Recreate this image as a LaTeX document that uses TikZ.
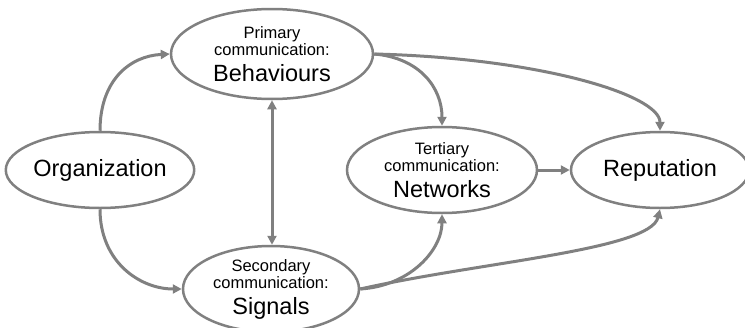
\documentclass[tikz,border=0pt]{standalone}
\usepackage{fontspec}
\setmainfont{Liberation Sans}
\usetikzlibrary{shapes.geometric,arrows.meta}
\definecolor{lc}{RGB}{128,128,128}
\newcommand{\smtxt}{\fontsize{16.5}{17}\selectfont}
\begin{document}
\begin{tikzpicture}[x=1pt,y=-1pt,
  ell/.style={ellipse, draw=lc, line width=2.5pt, inner sep=0pt, align=center,
    font=\fontsize{23.5}{26}\selectfont, text=black},
  conn/.style={draw=lc, line width=3pt, -{Triangle[length=9pt,width=9pt]}},
  dconn/.style={draw=lc, line width=3pt, {Triangle[length=9pt,width=9pt]}-{Triangle[length=9pt,width=9pt]}}]
\useasboundingbox (0,0) rectangle (745,327);
\clip (0,0) rectangle (745,327);
\node[ell, minimum width=176pt, minimum height=76pt] (org) at (100,170) {Organization};
\node[ell, minimum width=202pt, minimum height=90pt] (beh) at (272,54)
  {{\smtxt Primary}\\[-9pt]{\smtxt communication:}\\Behaviours};
\node[ell, minimum width=176pt, minimum height=86pt] (sig) at (271,289)
  {{\smtxt Secondary}\\[-9pt]{\smtxt communication:}\\Signals};
\node[ell, minimum width=190pt, minimum height=86pt] (net) at (442,170)
  {{\smtxt Tertiary}\\[-9pt]{\smtxt communication:}\\Networks};
\node[ell, minimum width=178pt, minimum height=76pt] (rep) at (660,170) {Reputation};

\draw[conn] (org.north) .. controls (100,80) and (130,56) .. (beh.west);
\draw[conn] (org.south) .. controls (100,262) and (140,289) .. (sig.west);
\draw[dconn] (beh.south) -- (beh.south |- sig.north);
\draw[conn] (beh.east) .. controls (420,58) and (442,88) .. (net.north);
\draw[conn] (beh.east) .. controls (540,58) and (660,95) .. (rep.north);
\draw[conn] (net.east) -- (rep.west);
\draw[conn] (sig.east) .. controls (410,286) and (442,250) .. (net.south);
\draw[conn] (sig.east) .. controls (480,262) and (650,250) .. (rep.south);
\end{tikzpicture}
\end{document}
